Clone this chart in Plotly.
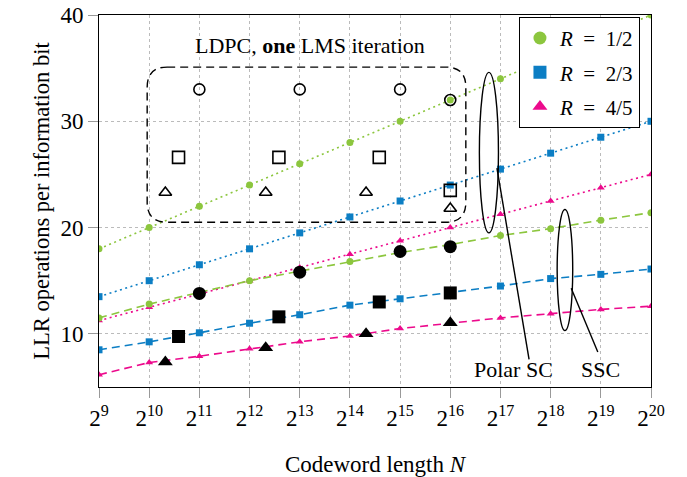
import numpy as np
import plotly.graph_objects as go

# ---------------- data ----------------
exponents = list(range(9, 21))                      # N = 2^9 ... 2^20
polar_sc_r12 = [18, 20, 22, 24, 26, 28, 30, 32, 34, 36, 38, 40]
polar_sc_r23 = [13.5, 15, 16.5, 18, 19.5, 21, 22.5, 24, 25.5, 27, 28.5, 30]
polar_sc_r45 = [11.25, 12.5, 13.75, 15, 16.25, 17.5, 18.75, 20, 21.25, 22.5, 23.75, 25]
ssc_r12 = [11.5, 12.8, 13.9, 15.0, 15.9, 16.8, 17.65, 18.4, 19.25, 19.9, 20.7, 21.4]
ssc_r23 = [8.5, 9.25, 10.1, 11.0, 11.8, 12.7, 13.3, 13.9, 14.5, 15.2, 15.6, 16.1]
ssc_r45 = [6.15, 7.3, 7.9, 8.6, 9.25, 9.8, 10.5, 11.0, 11.5, 11.9, 12.3, 12.6]

# codeword lengths of the comparison points (N = K / R)
n_r12 = [2048, 8192, 32768, 65536]
n_r23 = [1536, 6144, 24576, 65536]
n_r45 = [1280, 5120, 20480, 65536]
ldpc_r12 = [33, 33, 33, 32]
ldpc_r23 = [26.6, 26.6, 26.6, 23.5]
ldpc_r45 = [23.3, 23.3, 23.3, 21.8]
filled_r12 = [13.8, 15.8, 17.75, 18.2]
filled_r23 = [9.75, 11.6, 13.0, 13.85]
filled_r45 = [7.35, 8.7, 10.0, 11.05]

legend_labels = ["<i>R</i>\u2002=\u20021/2", "<i>R</i>\u2002=\u20022/3",
                 "<i>R</i>\u2002=\u20024/5"]
tick_labels = [f"2<sup>{e}</sup>" for e in exponents]

GREEN = "#8cc63e"
BLUE = "#0c7ec4"
PINK = "#ec0a8c"
FONT = "Liberation Serif, Times New Roman, serif"

fig = go.Figure()

# Polar SC (dotted)
for ys, col, sym in [(polar_sc_r12, GREEN, "circle"),
                     (polar_sc_r23, BLUE, "square"),
                     (polar_sc_r45, PINK, "triangle-up")]:
    fig.add_trace(go.Scatter(x=exponents, y=ys, mode="lines+markers",
                             line=dict(color=col, width=1.6, dash="2px,3.5px"),
                             marker=dict(color=col, symbol=sym, size=7),
                             showlegend=False, hoverinfo="skip"))
# SSC (dashed)
for ys, col, sym in [(ssc_r12, GREEN, "circle"),
                     (ssc_r23, BLUE, "square"),
                     (ssc_r45, PINK, "triangle-up")]:
    fig.add_trace(go.Scatter(x=exponents, y=ys, mode="lines+markers",
                             line=dict(color=col, width=1.6, dash="8px,5px"),
                             marker=dict(color=col, symbol=sym, size=7),
                             showlegend=False, hoverinfo="skip"))

# filled black comparison markers
for ns, ys, sym, sz in [(n_r12, filled_r12, "circle", 13),
                        (n_r23, filled_r23, "square", 13),
                        (n_r45, filled_r45, "triangle-up", 13)]:
    fig.add_trace(go.Scatter(x=np.log2(ns), y=ys, mode="markers",
                             marker=dict(color="black", symbol=sym, size=sz),
                             showlegend=False, hoverinfo="skip"))

# LDPC hollow markers
for ns, ys, sym, sz in [(n_r12, ldpc_r12, "circle-open", 11),
                        (n_r23, ldpc_r23, "square-open", 12),
                        (n_r45, ldpc_r45, "triangle-up-open", 11)]:
    fig.add_trace(go.Scatter(x=np.log2(ns), y=ys, mode="markers",
                             marker=dict(color="black", symbol=sym, size=sz,
                                         line=dict(width=1.6, color="black")),
                             showlegend=False, hoverinfo="skip"))

# legend entries
for i, (lab, col, sym) in enumerate(zip(legend_labels, [GREEN, BLUE, PINK],
                                        ["circle", "square", "triangle-up"])):
    fig.add_trace(go.Scatter(x=[None], y=[None], mode="markers", name=lab,
                             legendgroup=f"g{i}",
                             marker=dict(color=col, symbol=sym, size=13)))

# ---------------- decorations ----------------
x0, x1, y0, y1 = 9.96, 16.31, 20.5, 35.1
rx, ry = 20 / 50.18, 20 / 10.57
path = (f"M {x0+rx},{y1} L {x1-rx},{y1} Q {x1},{y1} {x1},{y1-ry} "
        f"L {x1},{y0+ry} Q {x1},{y0} {x1-rx},{y0} L {x0+rx},{y0} "
        f"Q {x0},{y0} {x0},{y0+ry} L {x0},{y1-ry} Q {x0},{y1} {x0+rx},{y1} Z")
shapes = [
    dict(type="path", xref="x", yref="y", path=path,
         line=dict(color="black", width=1.4, dash="8px,5px")),
    dict(type="circle", xref="x", yref="y", x0=16.58, x1=16.96, y0=19.5, y1=34.6,
         line=dict(color="black", width=1.4)),
    dict(type="circle", xref="x", yref="y", x0=18.13, x1=18.44, y0=10.3, y1=21.7,
         line=dict(color="black", width=1.4)),
    dict(type="line", xref="x", yref="y", x0=16.93, y0=25.6, x1=17.57, y1=7.6,
         line=dict(color="black", width=1.4)),
    dict(type="line", xref="x", yref="y", x0=18.41, y0=14.3, x1=18.94, y1=8.3,
         line=dict(color="black", width=1.4)),
]

annotations = [
    dict(x=13.2, y=37.1, xref="x", yref="y", showarrow=False,
         text="LDPC, <b>one</b> LMS iteration",
         font=dict(family=FONT, size=22, color="black")),
    dict(x=17.25, y=6.6, xref="x", yref="y", showarrow=False, text="Polar SC",
         font=dict(family=FONT, size=22, color="black")),
    dict(x=19.0, y=6.6, xref="x", yref="y", showarrow=False, text="SSC",
         font=dict(family=FONT, size=22, color="black")),
]

fig.update_layout(
    width=687, height=477,
    margin=dict(l=99, r=36, t=15, b=90),
    paper_bgcolor="white", plot_bgcolor="white",
    font=dict(family=FONT, size=22, color="black"),
    shapes=shapes, annotations=annotations,
    legend=dict(x=0.98, y=0.995, xanchor="right", yanchor="top",
                bgcolor="white", bordercolor="black", borderwidth=1,
                font=dict(family=FONT, size=21), tracegroupgap=4,
                itemsizing="trace"),
)
fig.update_xaxes(range=[9, 20], tickmode="array", tickvals=exponents,
                 ticktext=tick_labels, showline=True, linecolor="black",
                 linewidth=1, mirror=True, ticks="outside", ticklen=10,
                 tickcolor="#999999", showgrid=True, gridcolor="#bbbbbb",
                 griddash="dot", gridwidth=1, zeroline=False, automargin=False,
                 ticklabeloverflow="allow",
                 title=dict(text="Codeword length <i>N</i>",
                            font=dict(family=FONT, size=23), standoff=26),
                 tickfont=dict(family=FONT, size=23))
fig.update_yaxes(range=[5, 40], tickmode="array", tickvals=[10, 20, 30, 40],
                 showline=True, linecolor="black", linewidth=1, mirror=True,
                 ticks="outside", ticklen=10, tickcolor="#999999",
                 showgrid=True, gridcolor="#bbbbbb", griddash="dot", gridwidth=1,
                 zeroline=False, automargin=False, ticklabeloverflow="allow",
                 title=dict(text="LLR operations per information bit",
                            font=dict(family=FONT, size=22.5), standoff=4),
                 tickfont=dict(family=FONT, size=23))

# remove the default 8 px page margin so the figure sits at the window corner
fig.write_html("out.html",
               config={"displayModeBar": False},
               post_script="document.body.style.margin='0px';"
                           "document.body.style.overflow='hidden';")
